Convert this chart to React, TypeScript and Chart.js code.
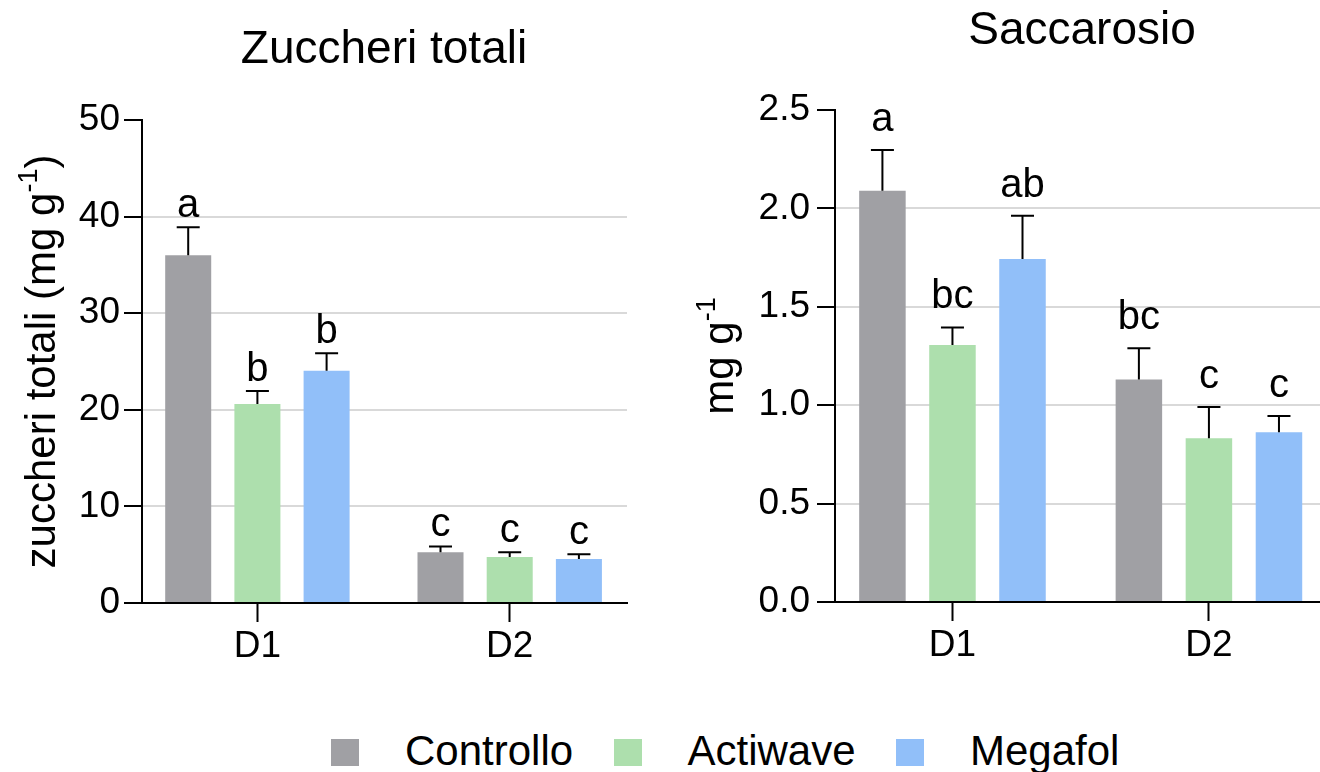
import React, { useEffect, useRef } from 'react';
import { Chart, registerables } from 'chart.js';

Chart.register(...registerables);

const FONT = '"Liberation Sans", Arial, Helvetica, sans-serif';

const groups = ['D1', 'D2'];
const seriesNames = ['Controllo', 'Actiwave', 'Megafol'];
const seriesColors = ['#a0a0a4', '#addfad', '#91bff9'];

// Zuccheri totali (mg g-1)
const totaliControllo = [36.0, 5.25];
const totaliActiwave = [20.6, 4.75];
const totaliMegafol = [24.05, 4.55];
const totaliSdControllo = [2.9, 0.6];
const totaliSdActiwave = [1.35, 0.5];
const totaliSdMegafol = [1.8, 0.5];
const totaliLettersControllo = ['a', 'c'];
const totaliLettersActiwave = ['b', 'c'];
const totaliLettersMegafol = ['b', 'c'];

// Saccarosio (mg g-1)
const saccControllo = [2.09, 1.13];
const saccActiwave = [1.306, 0.832];
const saccMegafol = [1.743, 0.862];
const saccSdControllo = [0.207, 0.16];
const saccSdActiwave = [0.089, 0.159];
const saccSdMegafol = [0.22, 0.083];
const saccLettersControllo = ['a', 'bc'];
const saccLettersActiwave = ['bc', 'c'];
const saccLettersMegafol = ['ab', 'c'];

type Spec = {
  values: number[][];
  sds: number[][];
  letters: string[][];
  yMax: number;
  yStep: number;
  yDecimals: number;
  yAxisWidth: number;
  tickPad: number;
  padTop: number;
  padRight: number;
  xMin: number;
  xMax: number;
  catPct: number;
  barPct: number;
  title: string;
  titleX: number;
  titleY: number;
  yTitleMain: string;
  yTitleSup: string;
  yTitleTail: string;
  yTitleX: number;
  letterGap: number;
};

function makeAnnotPlugin(spec: Spec) {
  return {
    id: 'annot',
    afterDatasetsDraw(chart: any) {
      const ctx = chart.ctx;
      const ys = chart.scales.y;
      ctx.save();
      ctx.strokeStyle = '#000';
      ctx.fillStyle = '#000';
      ctx.lineWidth = 2;
      ctx.font = `40px ${FONT}`;
      ctx.textAlign = 'center';
      ctx.textBaseline = 'alphabetic';
      chart.data.datasets.forEach((ds: any, i: number) => {
        const meta = chart.getDatasetMeta(i);
        meta.data.forEach((el: any, j: number) => {
          const v = ds.data[j].y;
          const top = ys.getPixelForValue(v + spec.sds[i][j]);
          const bx = el.x;
          ctx.beginPath();
          ctx.moveTo(bx, el.y);
          ctx.lineTo(bx, top);
          ctx.moveTo(bx - 11.5, top);
          ctx.lineTo(bx + 11.5, top);
          ctx.stroke();
          ctx.fillText(spec.letters[i][j], bx, top - spec.letterGap);
        });
      });
      ctx.restore();
    },
    afterDraw(chart: any) {
      const ctx = chart.ctx;
      const area = chart.chartArea;
      ctx.save();
      ctx.fillStyle = '#000';
      ctx.textBaseline = 'alphabetic';
      ctx.textAlign = 'center';
      ctx.font = `46px ${FONT}`;
      ctx.fillText(spec.title, spec.titleX, spec.titleY);

      // rotated y-axis title with superscript
      const size = 42;
      const supSize = 27;
      const f = `${size}px ${FONT}`;
      const fs = `${supSize}px ${FONT}`;
      ctx.font = f;
      const w1 = ctx.measureText(spec.yTitleMain).width;
      ctx.font = fs;
      const w2 = ctx.measureText(spec.yTitleSup).width;
      ctx.font = f;
      const w3 = ctx.measureText(spec.yTitleTail).width;
      const total = w1 + w2 + w3;
      ctx.translate(spec.yTitleX, (area.top + area.bottom) / 2);
      ctx.rotate(-Math.PI / 2);
      ctx.textAlign = 'left';
      let cx = -total / 2;
      ctx.font = f;
      ctx.fillText(spec.yTitleMain, cx, 0);
      cx += w1;
      ctx.font = fs;
      ctx.fillText(spec.yTitleSup, cx, -size * 0.42);
      cx += w2;
      ctx.font = f;
      ctx.fillText(spec.yTitleTail, cx, 0);
      ctx.restore();
    },
  };
}

function makeChart(canvas: HTMLCanvasElement, spec: Spec) {
  const datasets = seriesNames.map((name, i) => ({
    label: name,
    data: groups.map((_, j) => ({ x: j, y: spec.values[i][j] })),
    backgroundColor: seriesColors[i],
    borderWidth: 0,
    categoryPercentage: spec.catPct,
    barPercentage: spec.barPct,
  }));
  return new Chart(canvas, {
    type: 'bar',
    data: { datasets },
    plugins: [makeAnnotPlugin(spec)],
    options: {
      responsive: false,
      animation: false,
      events: [],
      layout: { padding: { top: spec.padTop, right: spec.padRight, left: 0, bottom: 0 } },
      plugins: {
        legend: { display: false },
        title: { display: false },
        tooltip: { enabled: false },
      },
      scales: {
        x: {
          type: 'linear',
          bounds: 'data',
          offset: false,
          min: spec.xMin,
          max: spec.xMax,
          afterBuildTicks: (s: any) => {
            s.ticks = groups.map((_, j) => ({ value: j }));
          },
          afterFit: (s: any) => {
            s.height = 80;
          },
          grid: {
            offset: false,
            drawOnChartArea: false,
            drawTicks: true,
            tickLength: 19,
            tickWidth: 2,
            tickColor: '#000',
          },
          border: { display: true, color: '#000', width: 2 },
          ticks: {
            color: '#000',
            padding: 3,
            maxRotation: 0,
            autoSkip: false,
            font: { family: FONT, size: 37 },
            callback: (_v: any, idx: number) => groups[idx],
          },
        },
        y: {
          type: 'linear',
          min: 0,
          max: spec.yMax,
          afterFit: (s: any) => {
            s.width = spec.yAxisWidth;
          },
          grid: {
            color: (c: any) =>
              c.tick && (c.tick.value === 0 || Math.abs(c.tick.value - spec.yMax) < 1e-9)
                ? 'rgba(0,0,0,0)'
                : '#d9d9d9',
            lineWidth: 2,
            drawTicks: true,
            tickLength: 18,
            tickWidth: 2,
            tickColor: '#000',
          },
          border: { display: true, color: '#000', width: 2 },
          ticks: {
            stepSize: spec.yStep,
            color: '#000',
            padding: spec.tickPad,
            font: { family: FONT, size: 37 },
            callback: (v: any) => Number(v).toFixed(spec.yDecimals),
          },
        },
      },
    } as any,
  });
}

const leftSpec: Spec = {
  values: [totaliControllo, totaliActiwave, totaliMegafol],
  sds: [totaliSdControllo, totaliSdActiwave, totaliSdMegafol],
  letters: [totaliLettersControllo, totaliLettersActiwave, totaliLettersMegafol],
  yMax: 50,
  yStep: 10,
  yDecimals: 0,
  yAxisWidth: 142,
  tickPad: 4,
  padTop: 120,
  padRight: 33,
  xMin: -0.4574,
  xMax: 1.4649,
  catPct: 0.8228,
  barPct: 0.665,
  title: 'Zuccheri totali',
  titleX: 384,
  titleY: 63,
  yTitleMain: 'zuccheri totali (mg g',
  yTitleSup: '-1',
  yTitleTail: ')',
  yTitleX: 55,
  letterGap: 10,
};

const rightSpec: Spec = {
  values: [saccControllo, saccActiwave, saccMegafol],
  sds: [saccSdControllo, saccSdActiwave, saccSdMegafol],
  letters: [saccLettersControllo, saccLettersActiwave, saccLettersMegafol],
  yMax: 2.5,
  yStep: 0.5,
  yDecimals: 1,
  yAxisWidth: 175,
  tickPad: 7,
  padTop: 110,
  padRight: 4,
  xMin: -0.458,
  xMax: 1.4565,
  catPct: 0.8193,
  barPct: 0.664,
  title: 'Saccarosio',
  titleX: 422,
  titleY: 44,
  yTitleMain: 'mg g',
  yTitleSup: '-1',
  yTitleTail: '',
  yTitleX: 73,
  letterGap: 19,
};

export default function App() {
  const leftRef = useRef<HTMLCanvasElement | null>(null);
  const rightRef = useRef<HTMLCanvasElement | null>(null);

  useEffect(() => {
    const c1 = makeChart(leftRef.current as HTMLCanvasElement, leftSpec);
    const c2 = makeChart(rightRef.current as HTMLCanvasElement, rightSpec);
    return () => {
      c1.destroy();
      c2.destroy();
    };
  }, []);

  return (
    <div
      style={{
        position: 'absolute',
        left: 0,
        top: 0,
        width: 1320,
        height: 772,
        overflow: 'hidden',
        background: '#fff',
        fontFamily: FONT,
      }}
    >
      <canvas
        ref={leftRef}
        width={660}
        height={683}
        style={{ position: 'absolute', left: 0, top: 0, width: 660, height: 683 }}
      />
      <canvas
        ref={rightRef}
        width={670}
        height={682}
        style={{ position: 'absolute', left: 660, top: 0, width: 670, height: 682 }}
      />
      {seriesNames.map((name, i) => (
        <React.Fragment key={name}>
          <div
            style={{
              position: 'absolute',
              left: 331 + i * 282.5,
              top: 739,
              width: 28,
              height: 27,
              background: seriesColors[i],
            }}
          />
          <div
            style={{
              position: 'absolute',
              left: 405 + i * 282.5,
              top: 730,
              fontSize: 42,
              lineHeight: '42px',
              color: '#000',
              whiteSpace: 'nowrap',
            }}
          >
            {name}
          </div>
        </React.Fragment>
      ))}
    </div>
  );
}
